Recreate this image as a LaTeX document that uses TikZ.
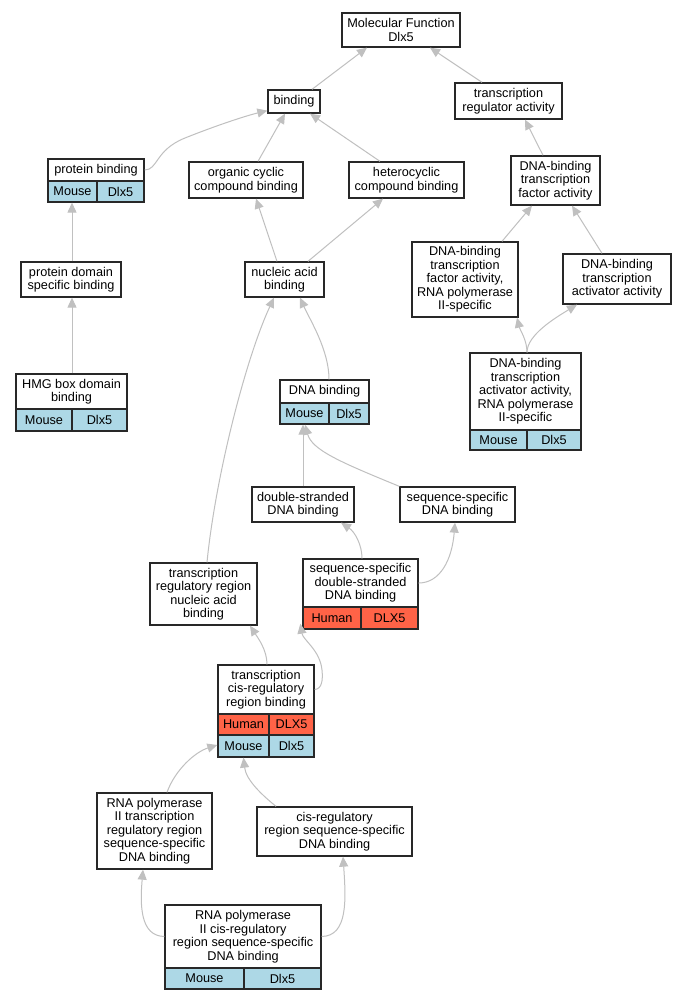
\documentclass[tikz,border=0pt]{standalone}
\usepackage{fontspec}
\setmainfont{Liberation Sans}
\usetikzlibrary{arrows.meta}
\definecolor{edgegray}{RGB}{192,192,192}
\definecolor{mouseblue}{RGB}{173,216,230}
\definecolor{humanred}{RGB}{255,99,71}
\definecolor{borderc}{RGB}{40,40,40}
\begin{document}
\begin{tikzpicture}[x=1pt,y=-1pt,
  box/.style={draw=borderc, line width=1.3pt, fill=white, inner sep=0pt, align=center,
    font=\fontsize{12.7}{13.5}\selectfont},
  sz/.style 2 args={minimum width=#1pt, minimum height=#2pt},
  mcell/.style={box, fill=mouseblue},
  hcell/.style={box, fill=humanred},
  edge/.style={draw=edgegray, line width=1pt, -{Triangle[length=10pt,width=9pt]}}]
\fill[white] (0,0) rectangle (687,1000);
\useasboundingbox (0,0) rectangle (687,1000);

% nodes
\node[box, sz={118}{34}] (mf) at (401,30) {Molecular Function\\Dlx5};
\node[box, sz={52}{23}] (bind) at (294,101.5) {binding};
\node[box, sz={107}{36}] (tra) at (508.5,101) {transcription\\regulator activity};
\node[box, sz={96}{22}] (pb) at (96,170) {protein binding};
\node[mcell, sz={49}{21}] (pbm) at (72.5,191.5) {Mouse};
\node[mcell, sz={47}{21}] (pbd) at (120.5,191.5) {Dlx5};
\node[box, sz={114}{36}] (occ) at (246,180) {organic cyclic\\compound binding};
\node[box, sz={115}{36}] (het) at (406.5,180) {heterocyclic\\compound binding};
\node[box, sz={89}{49}] (dtf) at (555.5,180.5) {DNA-binding\\transcription\\factor activity};
\node[box, sz={100}{35}] (pds) at (71,279.5) {protein domain\\specific binding};
\node[box, sz={79}{35}] (nab) at (284.5,279.5) {nucleic acid\\binding};
\node[box, sz={106}{75}] (dtfr) at (465,279.5) {DNA-binding\\transcription\\factor activity,\\RNA polymerase\\II-specific};
\node[box, sz={108}{50}] (dta) at (617,279) {DNA-binding\\transcription\\activator activity};
\node[box, sz={111}{35}] (hmg) at (71.5,391.5) {HMG box domain\\binding};
\node[mcell, sz={56}{22}] (hmgm) at (44,420) {Mouse};
\node[mcell, sz={55}{22}] (hmgd) at (99.5,420) {Dlx5};
\node[box, sz={89}{23}] (dnab) at (324.5,391.5) {DNA binding};
\node[mcell, sz={49}{21}] (dnabm) at (304.5,413.5) {Mouse};
\node[mcell, sz={40}{21}] (dnabd) at (349,413.5) {Dlx5};
\node[box, sz={111}{77}] (dtar) at (525.5,391.5) {DNA-binding\\transcription\\activator activity,\\RNA polymerase\\II-specific};
\node[mcell, sz={57}{20}] (dtarm) at (498.5,440) {Mouse};
\node[mcell, sz={54}{20}] (dtard) at (554,440) {Dlx5};
\node[box, sz={102}{35}] (dsd) at (303,504.5) {double-stranded\\DNA binding};
\node[box, sz={115}{35}] (ssd) at (457.5,504.5) {sequence-specific\\DNA binding};
\node[box, sz={107}{62}] (trr) at (203.5,594) {transcription\\regulatory region\\nucleic acid\\binding};
\node[box, sz={115}{48}] (ssds) at (360.5,583) {sequence-specific\\double-stranded\\DNA binding};
\node[hcell, sz={58}{22}] (ssdsh) at (332,618) {Human};
\node[hcell, sz={57}{22}] (ssdsd) at (389.5,618) {DLX5};
\node[box, sz={96}{49}] (tcr) at (266,689.5) {transcription\\cis-regulatory\\region binding};
\node[hcell, sz={51}{21}] (tcrh) at (243.5,724.5) {Human};
\node[hcell, sz={45}{21}] (tcrhd) at (291.5,724.5) {DLX5};
\node[mcell, sz={51}{22}] (tcrm) at (243.5,746) {Mouse};
\node[mcell, sz={45}{22}] (tcrmd) at (291.5,746) {Dlx5};
\node[box, sz={115}{76}] (rpt) at (154.5,831) {RNA polymerase\\II transcription\\regulatory region\\sequence-specific\\DNA binding};
\node[box, sz={155}{49}] (crs) at (334.5,831.5) {cis-regulatory\\region sequence-specific\\DNA binding};
\node[box, sz={156}{63}] (rpc) at (243,936.5) {RNA polymerase\\II cis-regulatory\\region sequence-specific\\DNA binding};
\node[mcell, sz={79}{21}] (rpcm) at (204.5,978.5) {Mouse};
\node[mcell, sz={77}{21}] (rpcd) at (282.5,978.5) {Dlx5};

% edges
\draw[edge] ([xshift=18pt]bind.north) -- ([xshift=-34pt]mf.south);
\draw[edge] ([xshift=-26.5pt]tra.north) -- ([xshift=29pt]mf.south);
\draw[edge] (pb.east) .. controls (158,170) and (155,150) .. (185,138) .. controls (215,126) and (245,116) .. ([yshift=3pt]bind.south west);
\draw[edge] ([xshift=12pt]occ.north) -- ([xshift=-9pt]bind.south);
\draw[edge] ([xshift=-26.5pt]het.north) -- ([xshift=16pt]bind.south);
\draw[edge] ([xshift=-12.5pt]dtf.north) -- ([xshift=16.5pt]tra.south);
\draw[edge] ([xshift=1pt]pds.north) -- ([xshift=-0.5pt]pbm.south);
\draw[edge] ([xshift=0.5pt]hmg.north) -- ([xshift=1pt]pds.south);
\draw[edge] ([xshift=-7.5pt]nab.north) -- ([xshift=10pt]occ.south);
\draw[edge] ([xshift=23.5pt]nab.north) -- ([xshift=-23.5pt]het.south);
\draw[edge] ([xshift=37pt]dtfr.north) -- ([xshift=-23.5pt]dtf.south);
\draw[edge] ([xshift=-15pt]dta.north) -- ([xshift=16.5pt]dtf.south);
\draw[edge] ([xshift=1.5pt]dtar.north) .. controls (527,340) and (520,330) .. ([xshift=52pt]dtfr.south);
\draw[edge] ([xshift=1.5pt]dtar.north) .. controls (527,335) and (555,318) .. ([xshift=-40pt]dta.south);
\draw[edge] ([xshift=4.5pt]dnab.north) .. controls (329,350) and (310,320) .. ([xshift=15.5pt]nab.south);
\draw[edge] ([xshift=3.5pt]trr.north) .. controls (215,480) and (245,360) .. ([xshift=-10.5pt]nab.south);
\draw[edge] (dsd.north) -- ([xshift=-1.5pt]dnabm.south);
\draw[edge] (ssd.north west) .. controls (340,462) and (312,450) .. ([xshift=0.5pt]dnabm.south);
\draw[edge] ([xshift=1.5pt]ssds.north) .. controls (362,545) and (355,532) .. ([xshift=38pt]dsd.south);
\draw[edge] (ssds.east) .. controls (440,583) and (452,560) .. ([xshift=-2.5pt]ssd.south);
\draw[edge] ([xshift=1pt]tcr.north) .. controls (267,650) and (258,638) .. ([xshift=46.5pt]trr.south);
\draw[edge] (tcr.east) .. controls (322,689) and (323,680) .. (322,670) .. controls (320,650) and (303,640) .. ([xshift=-2pt,yshift=6pt]ssdsh.south west);
\draw[edge] ([xshift=12.5pt]rpt.north) .. controls (175,770) and (195,752) .. ([yshift=1pt]tcrm.west);
\draw[edge] ([xshift=-58.5pt]crs.north) .. controls (262,795) and (246,780) .. (tcrm.south);
\draw[edge] (rpc.west) .. controls (140,936) and (140,905) .. ([xshift=-11.5pt]rpt.south);
\draw[edge] (rpc.east) .. controls (348,936) and (346,900) .. ([xshift=8.5pt]crs.south);
\end{tikzpicture}
\end{document}
